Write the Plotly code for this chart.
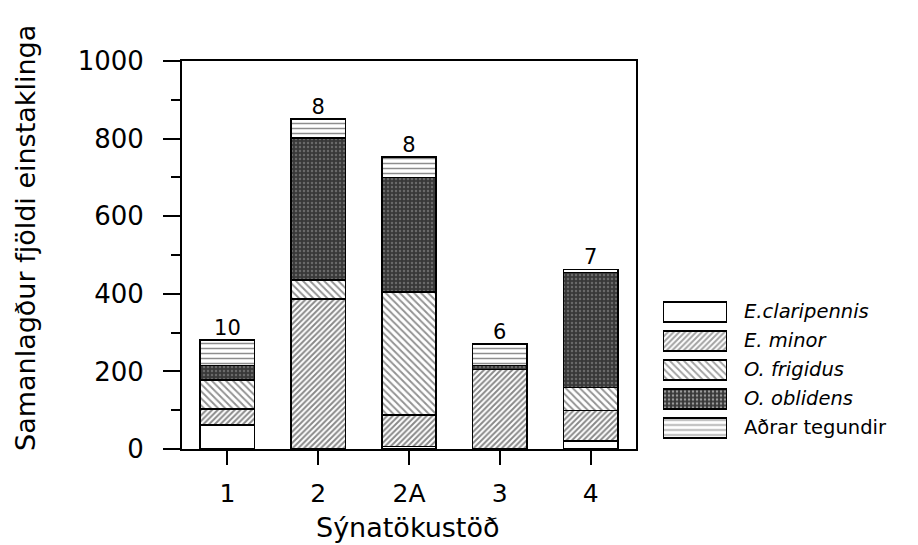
import plotly.graph_objects as go

stations = ["1", "2", "2A", "3", "4"]
e_claripennis = [62, 0, 6, 0, 20]
e_minor = [41, 387, 81, 205, 79]
o_frigidus = [75, 49, 318, 0, 59]
o_oblidens = [37, 365, 295, 10, 297]
adrar = [66, 49, 52, 55, 8]
species_counts = [10, 8, 8, 6, 7]

series_names = ["E.claripennis", "E. minor", "O. frigidus", "O. oblidens", "Aðrar tegundir"]
legend_labels = ["<i>E.claripennis</i>", "<i>E. minor</i>", "<i>O. frigidus</i>",
                 "<i>O. oblidens</i>", "Aðrar tegundir"]
series_values = [e_claripennis, e_minor, o_frigidus, o_oblidens, adrar]

pat_shape = ["", "/", "\\", ".", "-"]
pat_fg = ["#000000", "#141414", "#262626", "#9a9a9a", "#1e1e1e"]
pat_bg = ["#ffffff", "#ffffff", "#ffffff", "#383838", "#ffffff"]
pat_size = [6, 4, 5, 4, 5]
pat_sol = [0.2, 0.5, 0.38, 0.3, 0.3]

FONT = "DejaVu Sans"
W, H = 918, 545
x0, x1 = 182, 636
y0, y1 = 449, 61

fig = go.Figure()
for name, vals, sh, fg, bg, sz, so in zip(series_names, series_values, pat_shape, pat_fg, pat_bg, pat_size, pat_sol):
    fig.add_trace(go.Bar(
        x=stations, y=vals, name=name, width=0.6,
        marker=dict(color=bg, line=dict(color="black", width=1.5),
                    pattern=dict(shape=sh, fgcolor=fg, bgcolor=bg, size=sz, solidity=so)),
        showlegend=False,
    ))

totals = [sum(v) for v in zip(*series_values)]
fig.add_trace(go.Scatter(
    x=stations, y=totals, mode="text", text=[str(c) for c in species_counts],
    textposition="top center", textfont=dict(family=FONT, size=21, color="black"),
    showlegend=False, cliponaxis=False,
))

# legend drawn as bars on a small extra axis
fig.add_trace(go.Bar(
    x=[1] * 5, y=list(range(5)), orientation="h", xaxis="x2", yaxis="y2", width=0.7,
    marker=dict(color=pat_bg, line=dict(color="black", width=1.5),
                pattern=dict(shape=pat_shape, fgcolor=pat_fg, bgcolor=pat_bg, size=pat_size, solidity=pat_sol)),
    showlegend=False,
))
for i, lab in enumerate(legend_labels):
    fig.add_annotation(x=742 / W, xref="paper", y=i, yref="y2", text=lab, showarrow=False,
                       xanchor="left", yanchor="middle", font=dict(family=FONT, size=19.5, color="black"))

fig.add_annotation(x=25 / W, y=(H - 238) / H, xref="paper", yref="paper",
                   text="Samanlagður fjöldi einstaklinga", textangle=-90, showarrow=False,
                   xanchor="center", yanchor="middle", font=dict(family=FONT, size=27, color="black"))
fig.add_annotation(x=408 / W, y=(H - 527) / H, xref="paper", yref="paper",
                   text="Sýnatökustöð", showarrow=False, xanchor="center", yanchor="middle",
                   font=dict(family=FONT, size=27, color="black"))

fig.update_layout(
    width=W, height=H, margin=dict(l=0, r=0, t=0, b=0),
    paper_bgcolor="white", plot_bgcolor="white", barmode="stack", bargap=0.4,
    xaxis=dict(domain=[x0 / W, x1 / W], range=[-0.5, 4.5], type="category",
               showline=True, linecolor="black", linewidth=2, mirror=True,
               ticks="outside", ticklen=14, tickwidth=2, tickcolor="black",
               showgrid=False, zeroline=False, automargin=False, ticklabelstandoff=7,
               tickfont=dict(family=FONT, size=25, color="black")),
    yaxis=dict(domain=[(H - y0) / H, (H - y1) / H], range=[0, 1000],
               tickvals=[0, 200, 400, 600, 800, 1000],
               showline=True, linecolor="black", linewidth=2, mirror=True,
               ticks="outside", ticklen=17, tickwidth=2, tickcolor="black",
               minor=dict(tickvals=[100, 300, 500, 700, 900], ticks="outside", ticklen=9,
                          tickwidth=2, tickcolor="black", showgrid=False),
               showgrid=False, zeroline=False, automargin=False, ticklabelstandoff=14,
               tickfont=dict(family=FONT, size=26, color="black")),
    xaxis2=dict(domain=[663 / W, 727 / W], range=[0, 1], visible=False, anchor="y2"),
    yaxis2=dict(domain=[(H - 442.5) / H, (H - 297.5) / H], range=[4.5, -0.5],
                visible=False, anchor="x2"),
)

fig.write_html("out.html")
